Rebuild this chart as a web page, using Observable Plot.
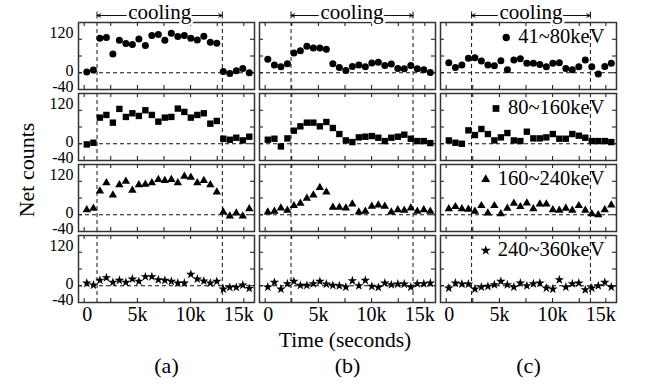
<!DOCTYPE html>
<html><head><meta charset="utf-8">
<script src="https://cdn.jsdelivr.net/npm/d3@7"></script>
<script src="https://cdn.jsdelivr.net/npm/@observablehq/plot@0.6"></script>
<style>
body{margin:0;background:#fff;}
#wrap{position:relative;width:649px;height:385px;font-family:'Liberation Serif','Times New Roman',serif;color:#000;background:#fff;}
#chart{position:absolute;left:0;top:0;}
.ylab{position:absolute;left:27px;top:170px;transform:translate(-50%,-50%) rotate(-90deg);font-size:22px;white-space:nowrap;line-height:1;}
.xlab{position:absolute;left:345px;top:341px;transform:translate(-50%,-50%);font-size:21.5px;white-space:nowrap;line-height:1;}
</style></head><body>
<div id="wrap"><div id="chart"></div><div class="ylab">Net counts</div><div class="xlab">Time (seconds)</div></div>
<script>
// ---- data ----
const panels = ["(a)", "(b)", "(c)"];
const bands = ["41~80keV", "80~160keV", "160~240keV", "240~360keV"];
const times = [250, 870, 1480, 2090, 2700, 3310, 3920, 4530, 5140, 5750, 6360, 6970, 7580,
               8190, 8800, 9410, 10020, 10630, 11240, 11850, 12460, 13070, 13680, 14290, 14900, 15510];

const a_41_80   = [2, 8, 103, 105, 56, 97, 87, 84, 101, 81, 111, 114, 97, 118, 108, 111, 103, 98, 109, 91, 88, 4, -2, 6, 13, 0];
const a_80_160  = [-2, 3, 78, 86, 63, 104, 80, 91, 83, 100, 86, 66, 78, 80, 105, 95, 78, 86, 91, 60, 68, 15, 12, 18, 10, 21];
const a_160_240 = [15, 19, 71, 95, 59, 89, 100, 73, 89, 91, 95, 105, 102, 105, 95, 115, 112, 95, 102, 89, 68, 8, -4, 5, -4, 18];
const a_240_360 = [8, 2, 16, 24, 10, 16, 10, 20, 13, 27, 27, 18, 16, 13, 8, 8, 34, 20, 14, 8, 13, -10, -5, -5, 2, -8];

const b_41_80   = [40, 23, 18, 27, 59, 66, 79, 74, 74, 70, 27, 16, 7, 19, 23, 18, 29, 31, 22, 26, 13, 12, 22, 12, 9, 1];
const b_80_160  = [12, 15, -8, 16, 39, 52, 63, 63, 52, 65, 47, 29, 10, 5, 19, 21, 23, 18, 8, 18, 21, 27, 15, 8, 8, 2];
const b_160_240 = [8, 10, 20, 13, 27, 34, 49, 59, 81, 68, 22, 22, 20, 32, 8, 10, 25, 29, 25, 8, 15, 13, 20, 10, 15, 10];
const b_240_360 = [-4, 10, -10, 6, 13, 1, 1, 6, 13, 5, 1, 0, -4, 15, 0, 16, -2, -5, 8, 3, 5, 5, -4, 6, 6, 8];

const c_41_80   = [30, 16, 23, 43, 45, 35, 23, 21, 36, 9, 38, 42, 28, 28, 25, 18, 28, 30, 13, 9, 18, 38, 18, -4, 19, 28];
const c_80_160  = [10, 3, 0, 40, 26, 44, 29, 10, 19, 32, 10, 8, 36, 16, 16, 19, 29, 15, 15, 29, 24, 18, 8, 8, 8, 5];
const c_160_240 = [18, 24, 18, 16, 10, 27, 5, 27, 3, 19, 34, 24, 35, 18, 32, 32, 15, 13, 19, 13, 27, 13, 3, 0, 15, 29];
const c_240_360 = [-7, 8, 5, 5, -10, -4, -2, 3, 13, 3, -4, 8, 0, 6, 8, -7, -10, 18, -4, 6, 8, -12, -7, 0, 10, -4];

const coolingStart = [1210, 2430, 2390];
const coolingEnd   = [12980, 13890, 13550];
const coolingLabel = "cooling";

const xTickLabels = [0, 5000, 10000, 15000];
const xMinorTicks = [0, 2500, 5000, 7500, 10000, 12500, 15000];
const yTickLabels = [120, 0, -40];
const yMinorTicks = [0, 50, 100];
const xDomain = [-530, 16000];
const yDomain = [-50, 150];

// ---- styles ----
const bandSymbols = ["circle", "square", "triangle", "star"];
const bandR = [3.5, 3.6, 3.1, 3.0];
const font = "'Liberation Serif','Times New Roman',serif";
const ink = "#111";
const yTickFont = 16;
const yTickDy = [0, -1.5, 1];

// ---- tables ----
const series = {
  "(a)": [a_41_80, a_80_160, a_160_240, a_240_360],
  "(b)": [b_41_80, b_80_160, b_160_240, b_240_360],
  "(c)": [c_41_80, c_80_160, c_160_240, c_240_360]
};
const rows = [];
panels.forEach(p => series[p].forEach((vals, bi) => vals.forEach((v, i) =>
  rows.push({panel: p, band: bands[bi], t: times[i], v}))));
const cooling = panels.map((p, i) => ({panel: p, start: coolingStart[i], end: coolingEnd[i], mid: (coolingStart[i] + coolingEnd[i]) / 2}));
const bounds = cooling.flatMap(c => [c.start, c.end].map(x => ({panel: c.panel, x})));
const boundsAll = bands.flatMap(b => bounds.map(d => ({...d, band: b})));

const legendFont = 20.5;
const ctx = document.createElement("canvas").getContext("2d");
ctx.font = `${legendFont}px 'Liberation Serif'`;
const legend = bands.map(b => ({panel: "(c)", band: b, label: b, w: ctx.measureText(b).width}));

const kfmt = d => d === 0 ? "0" : (d / 1000) + "k";
const topBand = () => bands[0];

const marks = [
  Plot.ruleY([0], {stroke: ink, strokeWidth: 1, strokeDasharray: "4,3"}),
  Plot.ruleX(boundsAll, {x: "x", fx: "panel", fy: "band", stroke: ink, strokeWidth: 1, strokeDasharray: "4,3"}),
  // inner minor ticks
  Plot.ruleX(xMinorTicks, {x: d => d, y1: yDomain[0], y2: yDomain[0], insetTop: -4, stroke: ink}),
  Plot.ruleX(xMinorTicks, {x: d => d, y1: yDomain[1], y2: yDomain[1], insetBottom: -4, stroke: ink}),
  Plot.ruleY(yMinorTicks, {y: d => d, x1: xDomain[0], x2: xDomain[0], insetRight: -4, stroke: ink}),
  Plot.ruleY(yMinorTicks, {y: d => d, x1: xDomain[1], x2: xDomain[1], insetLeft: -4, stroke: ink}),
  Plot.frame({stroke: "#333", strokeWidth: 1.5}),
  // data
  ...bands.map((b, bi) => Plot.dot(rows.filter(r => r.band === b), {
    x: "t", y: "v", fx: "panel", fy: "band",
    symbol: bandSymbols[bi], r: bandR[bi], fill: "black", stroke: "none"
  })),
  // cooling annotation (top row)
  Plot.ruleX(bounds, {x: "x", fx: "panel", fy: topBand, y1: yDomain[1], y2: yDomain[1], dy: -7, insetTop: -3.5, insetBottom: -3.5, stroke: ink}),
  Plot.arrow(cooling, {x1: "mid", x2: "start", y1: yDomain[1], y2: yDomain[1], fx: "panel", fy: topBand, dy: -7, headLength: 6, headAngle: 50, stroke: ink, strokeWidth: 1}),
  Plot.arrow(cooling, {x1: "mid", x2: "end", y1: yDomain[1], y2: yDomain[1], fx: "panel", fy: topBand, dy: -7, headLength: 6, headAngle: 50, stroke: ink, strokeWidth: 1}),
  Plot.text(cooling, {x: "mid", fx: "panel", fy: topBand, frameAnchor: "top", lineAnchor: "middle", dy: -10, text: () => coolingLabel,
    fontSize: 21, fill: "black", stroke: "white", strokeWidth: 5}),
  // legend in column (c)
  Plot.text(legend, {fx: "panel", fy: "band", text: "label", frameAnchor: "top-right", textAnchor: "end", lineAnchor: "middle",
    dx: -12, dy: 14, fontSize: legendFont, fill: "black"}),
  ...legend.map((l, bi) => Plot.dot([l], {fx: "panel", fy: "band", frameAnchor: "top-right",
    dx: -12 - l.w - 12, dy: 15, symbol: bandSymbols[bi], r: bandR[bi] + 0.2, fill: "black", stroke: "none"})),
  // axes
  ...yTickLabels.map((t, i) => Plot.axisY({ticks: [t], tickSize: 0, tickPadding: 5, fontSize: yTickFont,
    tickFormat: d => String(d), label: null, dy: yTickDy[i]})),
  Plot.axisX({ticks: [xTickLabels[0]], tickSize: 0, tickPadding: 4, fontSize: 20, tickFormat: kfmt, label: null, dx: 3}),
  Plot.axisX({ticks: xTickLabels.slice(1, 3), tickSize: 0, tickPadding: 4, fontSize: 20, tickFormat: kfmt, label: null}),
  Plot.axisX({ticks: [xTickLabels[3]], tickSize: 0, tickPadding: 4, fontSize: 20, tickFormat: kfmt, label: null, dx: -5}),
  Plot.axisFx({anchor: "bottom", tickSize: 0, tickPadding: 55, fontSize: 22, label: null})
];

const chart = Plot.plot({
  width: 649, height: 385,
  marginLeft: 77, marginRight: 32, marginTop: 20, marginBottom: 82,
  fx: {domain: panels, paddingInner: 0.0275, paddingOuter: 0, label: null},
  fy: {domain: bands, paddingInner: 0.063, paddingOuter: 0, label: null, axis: null},
  x: {domain: xDomain},
  y: {domain: yDomain},
  style: {fontFamily: font, fontSize: "18px", color: "black", background: "white", overflow: "visible"},
  marks
});
document.getElementById("chart").appendChild(chart);
</script>
</body></html>
